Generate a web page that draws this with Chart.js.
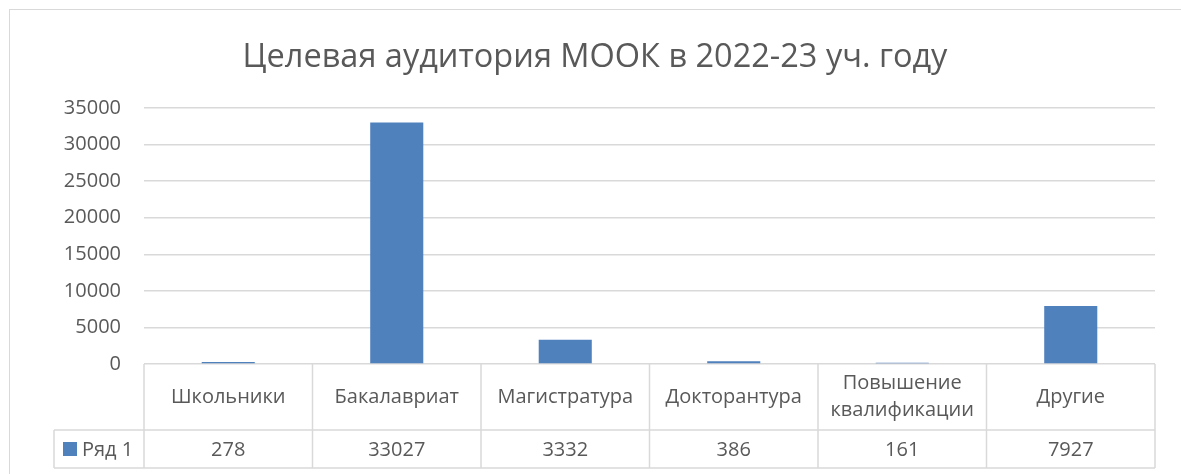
<!DOCTYPE html>
<html>
<head>
<meta charset="utf-8">
<script src="https://cdn.jsdelivr.net/npm/chart.js@4"></script>
<style>
  html, body { margin: 0; padding: 0; background: #fff; overflow: hidden; }
  .frame { position: absolute; left: 9px; top: 9px; width: 1200px; height: 500px; border: 1.5px solid #d9d9d9; box-sizing: border-box; }
  .wrap { position: absolute; left: 0; top: 0; width: 1181px; height: 474px; }
</style>
</head>
<body>
<div class="frame"></div>
<div class="wrap"><canvas id="c"></canvas></div>
<script>
const CATEGORIES = ["Школьники", "Бакалавриат", "Магистратура", "Докторантура", ["Повышение", "квалификации"], "Другие"];
const SERIES_NAME = "Ряд 1";
const VALUES = [278, 33027, 3332, 386, 161, 7927];
const TITLE = "Целевая аудитория МООК в 2022-23 уч. году";

const TEXT = "#595959";
const GRID = "#d9d9d9";
const BAR = "#4f81bd";
const FONT = "'Open Sans', 'Noto Sans', sans-serif";

const dataTable = {
  id: "dataTable",
  afterDraw(chart) {
    const { ctx, scales: { x, y } } = chart;
    const top = y.getPixelForValue(0);
    const mid = top + 66;
    const bottom = mid + 38;
    const half = (x.getPixelForValue(1) - x.getPixelForValue(0)) / 2;
    const left = x.getPixelForValue(0) - half;
    const right = x.getPixelForValue(VALUES.length - 1) + half;
    const legendLeft = 54;

    ctx.save();
    ctx.strokeStyle = GRID;
    ctx.lineWidth = 1.5;
    ctx.beginPath();
    for (let i = 0; i <= VALUES.length; i++) {
      const px = left + i * half * 2;
      ctx.moveTo(px, top);
      ctx.lineTo(px, bottom);
    }
    ctx.moveTo(legendLeft, mid); ctx.lineTo(right, mid);
    ctx.moveTo(legendLeft, bottom); ctx.lineTo(right, bottom);
    ctx.moveTo(legendLeft, mid); ctx.lineTo(legendLeft, bottom);
    ctx.stroke();

    ctx.fillStyle = TEXT;
    ctx.font = `20px ${FONT}`;
    ctx.textAlign = "center";
    ctx.textBaseline = "middle";
    CATEGORIES.forEach((cat, i) => {
      const cx = x.getPixelForValue(i);
      const lines = Array.isArray(cat) ? cat : [cat];
      const lh = 27;
      const y0 = (top + mid) / 2 - (lines.length - 1) * lh / 2;
      lines.forEach((t, j) => ctx.fillText(t, cx, y0 + j * lh));
      ctx.fillText(String(VALUES[i]), cx, (mid + bottom) / 2 + 1);
    });

    ctx.fillStyle = BAR;
    ctx.fillRect(63, (mid + bottom) / 2 - 7, 14, 14);
    ctx.fillStyle = TEXT;
    ctx.textAlign = "left";
    ctx.fillText(SERIES_NAME, 82, (mid + bottom) / 2 + 1);
    ctx.restore();
  },
};

new Chart(document.getElementById("c"), {
  type: "bar",
  data: {
    labels: CATEGORIES,
    datasets: [{
      label: SERIES_NAME,
      data: VALUES,
      backgroundColor: BAR,
      borderWidth: 0,
      categoryPercentage: 1,
      barPercentage: 0.315,
    }],
  },
  options: {
    responsive: true,
    maintainAspectRatio: false,
    animation: false,
    layout: { padding: { top: 0, right: 26, bottom: 102, left: 35 } },
    plugins: {
      legend: { display: false },
      tooltip: { enabled: false },
      title: {
        display: true,
        text: TITLE,
        color: TEXT,
        font: { family: FONT, size: 32.5, weight: "normal" },
        padding: { top: 38, bottom: 31 },
      },
    },
    scales: {
      x: {
        ticks: { display: false },
        grid: { display: false },
        border: { display: false },
      },
      y: {
        min: 0,
        max: 35000,
        ticks: { stepSize: 5000, color: TEXT, padding: 23, font: { family: FONT, size: 20 }, callback: (v) => String(v) },
        grid: { color: GRID, lineWidth: 1.5, drawTicks: false },
        border: { display: false },
        afterFit(scale) { scale.width = 109; },
      },
    },
  },
  plugins: [dataTable],
});
</script>
</body>
</html>
